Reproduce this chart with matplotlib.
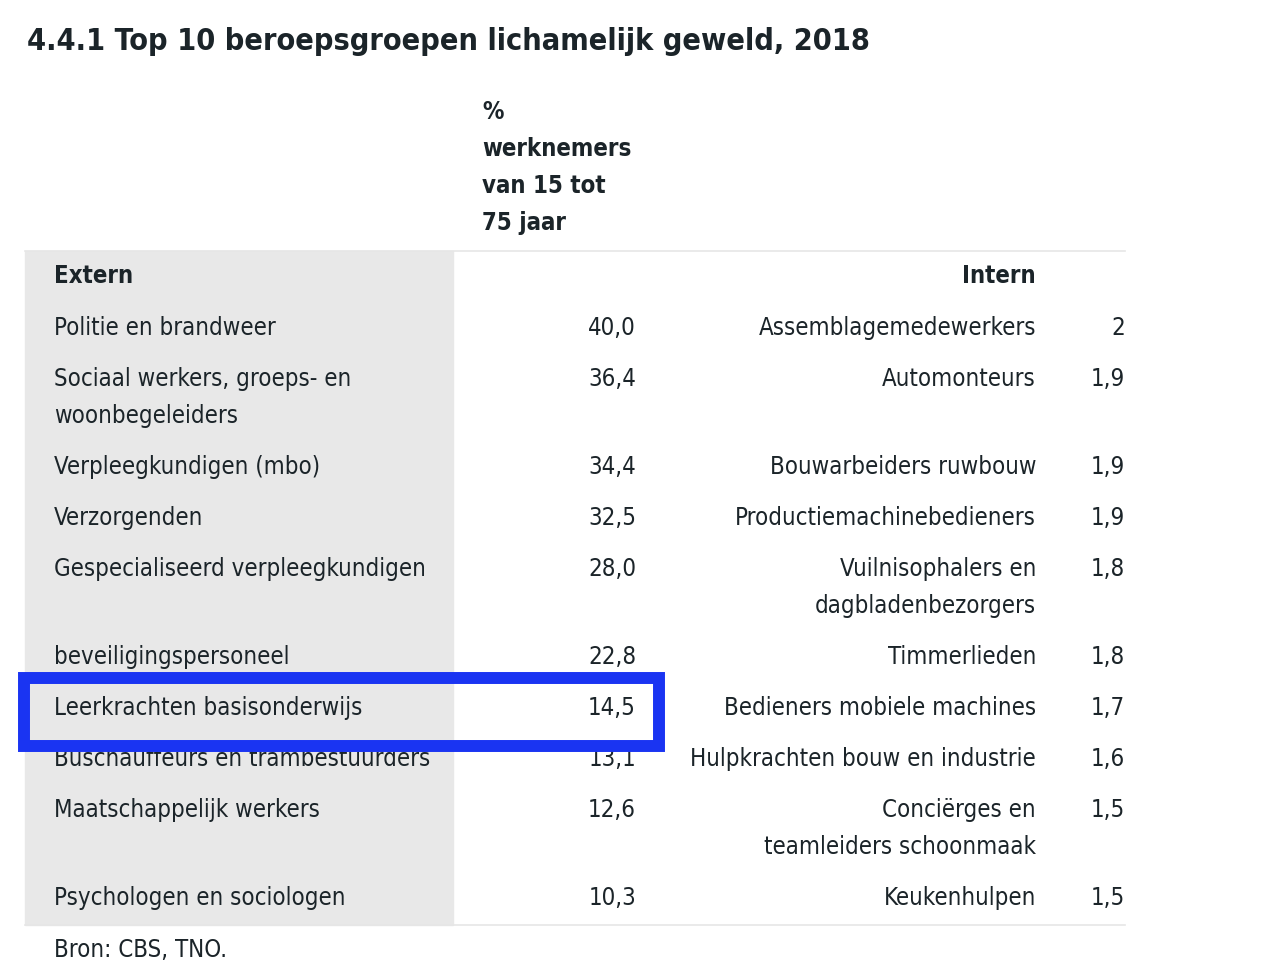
import matplotlib
matplotlib.use("Agg")
import matplotlib.pyplot as plt
from matplotlib.patches import Rectangle

title = "4.4.1 Top 10 beroepsgroepen lichamelijk geweld, 2018"
col_header = ["%", "werknemers", "van 15 tot", "75 jaar"]
source = "Bron: CBS, TNO."

extern_labels = [
    "Politie en brandweer",
    "Sociaal werkers, groeps- en\nwoonbegeleiders",
    "Verpleegkundigen (mbo)",
    "Verzorgenden",
    "Gespecialiseerd verpleegkundigen",
    "beveiligingspersoneel",
    "Leerkrachten basisonderwijs",
    "Buschauffeurs en trambestuurders",
    "Maatschappelijk werkers",
    "Psychologen en sociologen",
]
extern_values = [40.0, 36.4, 34.4, 32.5, 28.0, 22.8, 14.5, 13.1, 12.6, 10.3]

intern_labels = [
    "Assemblagemedewerkers",
    "Automonteurs",
    "Bouwarbeiders ruwbouw",
    "Productiemachinebedieners",
    "Vuilnisophalers en\ndagbladenbezorgers",
    "Timmerlieden",
    "Bedieners mobiele machines",
    "Hulpkrachten bouw en industrie",
    "Conciërges en\nteamleiders schoonmaak",
    "Keukenhulpen",
]
intern_values = [2, 1.9, 1.9, 1.9, 1.8, 1.8, 1.7, 1.6, 1.5, 1.5]
highlight = "Leerkrachten basisonderwijs"

txt = "#1b2429"
fam = "DejaVu Sans"
fs = 17.2
row_step, line_step = 51, 37

fig = plt.figure(figsize=(12.8, 9.64), dpi=100)
ax = fig.add_axes([0, 0, 1, 1])
ax.set_xlim(0, 1280)
ax.set_ylim(964, 0)
ax.axis("off")

kw = dict(fontsize=fs, family=fam, stretch="condensed", color=txt, va="center")


def lines(x, y, s, ha, **extra):
    for i, part in enumerate(s.split("\n")):
        ax.text(x, y + i * line_step, part, ha=ha, **kw, **extra)


ax.text(27, 42, title, fontsize=22, fontweight="bold", family=fam, stretch="condensed",
        color=txt, va="center", ha="left")
lines(482, 112, "\n".join(col_header), "left", fontweight="bold")

# gray column + rules
ax.add_patch(Rectangle((25, 251), 428, 674, color="#e8e8e8", zorder=0))
ax.plot([25, 1125], [251, 251], color="#e6e6e6", lw=1.2)
ax.plot([25, 1125], [925, 925], color="#e6e6e6", lw=1.2)

ax.text(54, 276, "Extern", fontweight="bold", ha="left", **kw)
ax.text(1036, 276, "Intern", fontweight="bold", ha="right", **kw)

y = 328
for el, ev, il, iv in zip(extern_labels, extern_values, intern_labels, intern_values):
    lines(54, y, el, "left")
    ax.text(636, y, f"{ev:.1f}".replace(".", ","), ha="right", **kw)
    lines(1036, y, il, "right")
    ax.text(1125, y, f"{iv:g}".replace(".", ","), ha="right", **kw)
    if el == highlight:
        hy = y
    nlines = max(el.count("\n"), il.count("\n")) + 1
    y += row_step + line_step * (nlines - 1)

ax.add_patch(Rectangle((24, hy - 30), 635, 68, fill=False, edgecolor="#1a34f2",
                       lw=8.6, zorder=5))

ax.text(54, 950, source, ha="left", **kw)

fig.savefig("out.png", dpi=100)
